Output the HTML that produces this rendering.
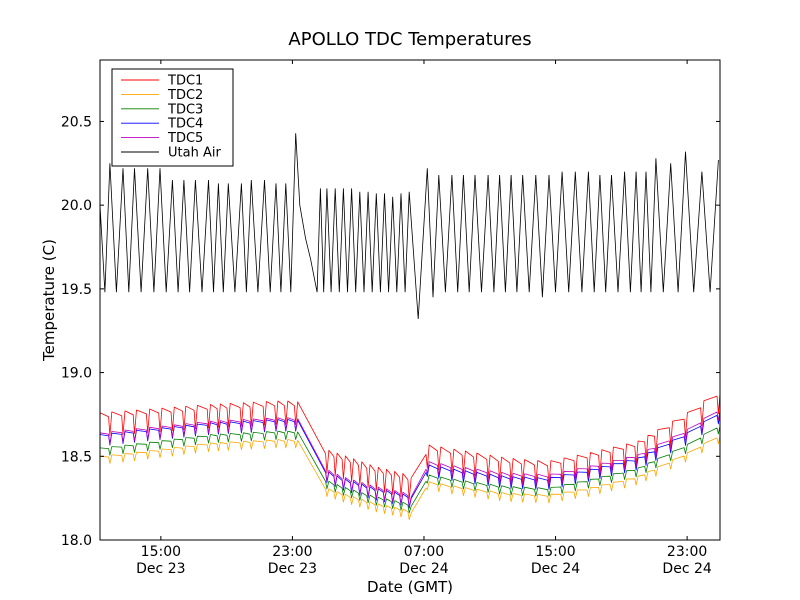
<!DOCTYPE html>
<html><head><meta charset="utf-8"><style>
body{margin:0;background:#fff;}
svg{display:block;font-family:"DejaVu Sans","Liberation Sans",sans-serif;}
</style></head><body>
<svg id="chart" width="800" height="600"></svg>
<script>
// Data (hours since Dec 23 00:00 GMT)
const xDomain = [11.3, 49.0];
const yDomain = [18.0, 20.867];
const yTicks = [18.0, 18.5, 19.0, 19.5, 20.0, 20.5];
const yTickLabels = ["18.0","18.5","19.0","19.5","20.0","20.5"];
const xTicks = [15, 23, 31, 39, 47];
const xTickLabels = [["15:00","Dec 23"],["23:00","Dec 23"],["07:00","Dec 24"],["15:00","Dec 24"],["23:00","Dec 24"]];
const airPeakT = [11.9,12.7,13.4,14.2,14.95,15.7,16.4,17.1,17.9,18.5,19.1,19.9,20.5,21.3,22.0,22.6,23.2,24.7,25.1,25.6,26.1,26.6,27.1,27.6,28.1,28.6,29.1,29.6,30.1,31.2,31.9,32.7,33.4,34.1,34.9,35.6,36.3,37.0,37.8,38.6,39.4,40.2,41.0,41.7,42.4,43.2,43.9,44.5,45.1,46.0,46.9,47.9,48.9];
const airPeakV = [20.25,20.22,20.22,20.22,20.22,20.15,20.15,20.15,20.15,20.13,20.13,20.13,20.15,20.15,20.13,20.13,20.43,20.1,20.1,20.1,20.1,20.1,20.08,20.08,20.07,20.07,20.05,20.07,20.08,20.22,20.18,20.18,20.18,20.18,20.18,20.18,20.18,20.18,20.18,20.18,20.2,20.2,20.2,20.18,20.18,20.2,20.2,20.2,20.28,20.25,20.32,20.2,20.27];
const airTroughV = [19.48,19.48,19.48,19.48,19.48,19.48,19.48,19.48,19.48,19.48,19.48,19.48,19.48,19.48,19.48,19.48,19.48,19.48,19.48,19.48,19.48,19.48,19.48,19.48,19.48,19.48,19.48,19.48,19.32,19.45,19.48,19.48,19.48,19.48,19.48,19.48,19.48,19.48,19.45,19.48,19.48,19.48,19.48,19.48,19.48,19.48,19.48,19.48,19.48,19.48,19.48,19.48];
const airStart = [11.3, 20.0];
const airDeclineT = [23.45, 23.8, 24.1, 24.5];
const airDeclineV = [20.0, 19.8, 19.68, 19.48];
const tdcT = [11.3,14,18,22,23.3,24.5,26,28,30,30.6,31.2,33,36,38.5,41,44,47,49];
const tdc1Low = [18.62,18.64,18.67,18.69,18.69,18.42,18.37,18.3,18.25,18.2,18.43,18.4,18.35,18.33,18.38,18.45,18.62,18.76];
const tdc2Low = [18.45,18.48,18.53,18.55,18.55,18.28,18.23,18.17,18.13,18.08,18.3,18.27,18.23,18.22,18.26,18.33,18.47,18.58];
const tdc3Low = [18.5,18.53,18.58,18.6,18.6,18.33,18.27,18.21,18.17,18.12,18.34,18.31,18.27,18.26,18.31,18.38,18.52,18.64];
const tdc4Low = [18.56,18.59,18.63,18.65,18.65,18.37,18.3,18.24,18.2,18.14,18.38,18.35,18.31,18.3,18.35,18.42,18.57,18.7];
const tdc5Low = [18.57,18.6,18.64,18.66,18.66,18.38,18.31,18.25,18.21,18.15,18.4,18.37,18.33,18.32,18.37,18.44,18.59,18.72];
const tdcAmp = [0.14, 0.05, 0.05, 0.07, 0.07];
const seriesNames = ["TDC1","TDC2","TDC3","TDC4","TDC5","Utah Air"];
const seriesColors = ["#ff0000","#ffa500","#008000","#0000ff","#bf00bf","#000000"];

const L=100,R=720,T=60,B=540;
const xs = t => L + (t - xDomain[0]) / (xDomain[1]-xDomain[0]) * (R-L);
const ys = v => B - (v - yDomain[0]) / (yDomain[1]-yDomain[0]) * (B-T);
const svg = document.getElementById('chart');
const NS='http://www.w3.org/2000/svg';
function mk(tag, attrs, parent){const e=document.createElementNS(NS,tag);for(const k in attrs)e.setAttribute(k,attrs[k]);(parent||svg).appendChild(e);return e;}
function interp(tt, arr){
  if(tt<=tdcT[0])return arr[0];
  for(let i=1;i<tdcT.length;i++){if(tt<=tdcT[i]){const f=(tt-tdcT[i-1])/(tdcT[i]-tdcT[i-1]);return arr[i-1]+f*(arr[i]-arr[i-1]);}}
  return arr[arr.length-1];
}
const title = mk('text',{x:410,y:45,'text-anchor':'middle','font-size':18});
title.textContent='APOLLO TDC Temperatures';



const clip = mk('clipPath',{id:'pc'}); mk('rect',{x:L,y:T,width:R-L,height:B-T},clip);
const plot = mk('g',{'clip-path':'url(#pc)'});



const lows=[tdc1Low,tdc2Low,tdc3Low,tdc4Low,tdc5Low];
lows.forEach((low,si)=>{
  const a=tdcAmp[si];
  let pts=[[xDomain[0], interp(xDomain[0],low)+a]];
  for(let i=0;i<airPeakT.length;i++){
    const t=airPeakT[i];
    if(t>23.3 && t<24.8) continue;
    pts.push([t-0.08, interp(t-0.08,low)+a*0.8]);
    pts.push([t, interp(t,low)]);
    pts.push([t+0.12, interp(t+0.12,low)+a]);
  }
  pts.push([xDomain[1], interp(xDomain[1],low)+a]);
  const p = mk('polyline',{points:pts.map(p=>xs(p[0]).toFixed(1)+','+ys(p[1]).toFixed(1)).join(' '),fill:'none',stroke:seriesColors[si],'stroke-width':0.8,'stroke-linejoin':'round'},plot);
  
  
});
{
  let pts=[airStart];
  for(let i=0;i<airPeakT.length;i++){
    if(i===0) pts.push([(airStart[0]+airPeakT[0])/2, 19.48]);
    else if(airPeakT[i-1]===23.2){ airDeclineT.forEach((t,k)=>pts.push([t,airDeclineV[k]])); }
    else pts.push([(airPeakT[i-1]+airPeakT[i])/2, airTroughV[i-1]]);
    pts.push([airPeakT[i], airPeakV[i]]);
  }
  const p = mk('polyline',{points:pts.map(p=>xs(p[0]).toFixed(1)+','+ys(p[1]).toFixed(1)).join(' '),fill:'none',stroke:'#000','stroke-width':0.8},plot);
  
  
}
const frame = mk('rect',{x:L,y:T,width:R-L,height:B-T,fill:'none',stroke:'#000','stroke-width':1});



yTicks.forEach((v,i)=>{
  const y=ys(v);
  mk('line',{x1:L,x2:L+4,y1:y,y2:y,stroke:'#000'});
  mk('line',{x1:R,x2:R-4,y1:y,y2:y,stroke:'#000'});
  const t=mk('text',{x:L-8,y:y+5,'text-anchor':'end','font-size':14});
  t.textContent=yTickLabels[i];
  
  
});
xTicks.forEach((v,i)=>{
  const x=xs(v);
  mk('line',{x1:x,x2:x,y1:B,y2:B-4,stroke:'#000'});
  mk('line',{x1:x,x2:x,y1:T,y2:T+4,stroke:'#000'});
  const t=mk('text',{x:x,y:556,'text-anchor':'middle','font-size':14});
  t.textContent=xTickLabels[i][0];
  
  
  const t2=mk('text',{x:x,y:573,'text-anchor':'middle','font-size':14});
  t2.textContent=xTickLabels[i][1];
  
  
});
const xl=mk('text',{x:410,y:592,'text-anchor':'middle','font-size':15});
xl.textContent='Date (GMT)';


const yl=mk('text',{x:54,y:300,'text-anchor':'middle','font-size':15,transform:'rotate(-90 54 300)'});
yl.textContent='Temperature (C)';



const lg=mk('g',{});


mk('rect',{x:112,y:69,width:121,height:97,fill:'#fff',stroke:'#000','stroke-width':1},lg);
seriesNames.forEach((n,i)=>{
  const y=80+i*14.4;
  const e=mk('g',{},lg);
  
  
  mk('line',{x1:121,x2:159,y1:y,y2:y,stroke:seriesColors[i],'stroke-width':0.9},e);
  const t=mk('text',{x:168,y:y+4.5,'font-size':13},e);
  t.textContent=n;
});
</script>
</body></html>
